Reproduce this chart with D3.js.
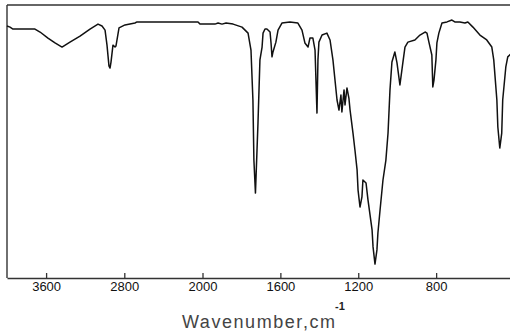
<!DOCTYPE html>
<html>
<head>
<meta charset="utf-8">
<script src="https://cdn.jsdelivr.net/npm/d3@7/dist/d3.min.js"></script>
<style>
  html, body { margin: 0; padding: 0; background: #fff; }
  svg { display: block; }
</style>
</head>
<body>
<svg id="chart" width="510" height="335"></svg>
<script>
// Wavenumber (cm^-1)
const wavenumber = [4000,3969,3939,3714,3662,3581,3509,3437,3356,3253,3151,3069,3028,2997,2977,2957,2946,2936,2916,2895,2885,2854,2793,2691,2670,2046,2026,1936,1920,1900,1879,1843,1797,1766,1751,1741,1736,1728,1720,1715,1705,1694,1689,1679,1669,1653,1648,1643,1638,1623,1612,1592,1551,1510,1489,1474,1458,1448,1433,1422,1412,1407,1402,1386,1361,1345,1330,1309,1299,1289,1284,1273,1268,1258,1248,1242,1227,1217,1206,1201,1191,1181,1176,1160,1150,1129,1124,1114,1104,1099,1088,1073,1058,1047,1037,1027,1012,1001,986,971,960,945,909,883,857,847,837,822,817,811,801,796,786,770,744,719,704,678,652,637,611,575,540,514,504,488,483,473,463,458,442,432,422,400];
// Transmittance (%)
const transmittance = [92.3,91.9,91.2,91.2,90.1,87.9,86.1,84.6,86.4,88.6,91.2,93.0,92.3,90.8,85.3,77.7,76.9,79.1,85.3,84.6,85.0,91.6,92.7,93.4,93.8,93.8,93.0,93.0,93.4,93.0,93.4,93.0,91.9,89.7,83.5,65.2,43.2,31.1,46.9,56.8,79.9,84.6,89.7,91.2,91.2,90.1,86.1,81.0,82.8,86.4,90.8,93.4,93.8,93.4,90.8,86.1,84.6,87.9,87.9,83.5,60.4,79.9,86.4,89.0,89.7,87.2,79.9,65.2,61.5,67.0,60.8,68.9,63.4,69.6,65.9,61.5,53.1,46.9,39.6,32.2,26.0,29.7,35.9,34.8,28.6,17.6,11.4,5.1,10.3,16.5,24.9,35.9,43.2,53.1,68.9,79.1,82.8,78.8,70.7,78.8,84.6,86.4,87.2,89.0,90.1,89.7,86.4,81.7,70.0,72.5,79.9,86.1,89.7,93.4,93.8,94.5,93.8,93.8,93.4,93.8,91.9,89.0,87.2,84.6,79.9,65.2,55.3,47.6,53.1,65.2,77.3,81.0,81.7,82.8];
// Axis ticks
const tickValues = [3600, 2800, 2000, 1600, 1200, 800];
const axisTitle = "Wavenumber,cm";
const axisTitleSup = "-1";

const svg = d3.select("#chart");
const x = d3.scaleLinear().domain([4000, 2000, 400]).range([7, 202.5, 514]);
const y = d3.scaleLinear().domain([0, 100]).range([278, 5]);

const frameColor = "#333";

// frame: top and left
svg.append("line")
  .attr("x1", x(4000)).attr("x2", x(400))
  .attr("y1", y(100)).attr("y2", y(100))
  .attr("stroke", frameColor).attr("stroke-width", 1.4);
svg.append("line")
  .attr("x1", x(4000)).attr("x2", x(4000))
  .attr("y1", y(100)).attr("y2", y(0))
  .attr("stroke", frameColor).attr("stroke-width", 1.4);

// spectrum
const data = wavenumber.map((w, i) => [w, transmittance[i]]);
svg.append("path")
  .datum(data)
  .attr("fill", "none")
  .attr("stroke", "#111")
  .attr("stroke-width", 1.5)
  .attr("stroke-linejoin", "round")
  .attr("d", d3.line().x(d => x(d[0])).y(d => y(d[1])));

// bottom axis
const axis = d3.axisBottom(x)
  .tickValues(tickValues)
  .tickSizeInner(-5)
  .tickSizeOuter(0)
  .tickPadding(4)
  .tickFormat(d3.format("d"));
const g = svg.append("g").attr("transform", `translate(0,${y(0)})`).call(axis);
g.select(".domain").attr("stroke", frameColor).attr("stroke-width", 1.4);
g.selectAll(".tick line").attr("stroke", frameColor).attr("stroke-width", 1.3);
g.selectAll(".tick text")
  .attr("fill", "#111")
  .style("font-family", "'Liberation Sans', Arial, sans-serif")
  .style("font-size", "13px")
  .attr("y", 4);

// axis title
svg.append("text")
  .attr("x", 182).attr("y", 328)
  .attr("textLength", 153).attr("lengthAdjust", "spacing")
  .attr("fill", "#444")
  .style("font-family", "'Liberation Sans', Arial, sans-serif")
  .style("font-size", "18px")
  .text(axisTitle);
svg.append("text")
  .attr("x", 335).attr("y", 310)
  .attr("fill", "#222")
  .style("font-family", "'Liberation Sans', Arial, sans-serif")
  .style("font-size", "11px")
  .style("font-weight", "bold")
  .text(axisTitleSup);
</script>
</body>
</html>
